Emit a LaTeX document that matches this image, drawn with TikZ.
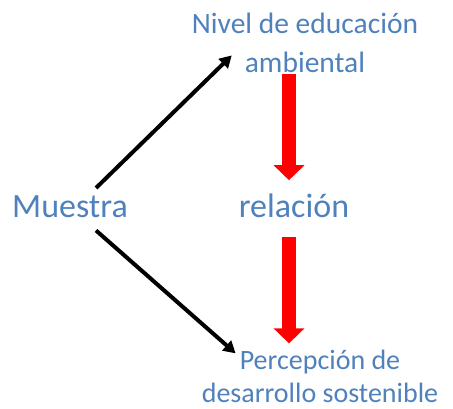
\documentclass[tikz,border=0pt]{standalone}
\usepackage{fontspec}
\setmainfont{Carlito}
\usetikzlibrary{arrows.meta}
\definecolor{edublue}{RGB}{79,129,189}
\definecolor{edured}{RGB}{255,0,0}

\begin{document}
\begin{tikzpicture}[x=1pt,y=-1pt,
  big/.style={text=edublue,inner sep=0pt,anchor=base,font=\fontsize{34}{40}\selectfont},
  small/.style={text=edublue,inner sep=0pt,anchor=base,align=center,font=\fontsize{28}{33}\selectfont},
  blackarrow/.style={line width=4pt,-{Triangle[width=13pt,length=12pt]}},
  redarrow/.style={edured,line width=14pt,-{Triangle[width=30pt,length=15pt]}}]
\useasboundingbox (0,0) rectangle (453,408);

% Labels
\node[big] (muestra) at (70,217) {Muestra};
\node[big] (relacion) at (294,217) {relación};
\node[small,font=\fontsize{29.5}{33}\selectfont] (nivel) at (305,72) {Nivel de educación\\[6pt]ambiental};
\node[small] (percep) at (320,402) {Percepción de\\desarrollo sostenible};

% Black arrows from Muestra
\draw[blackarrow] ([xshift=26pt,yshift=7pt]muestra.north) -- ([xshift=40pt,yshift=17pt]nivel.south west);
\draw[blackarrow] ([xshift=26pt,yshift=-13pt]muestra.south) -- ([xshift=34pt,yshift=-4pt]percep.north west);

% Red arrows down the middle
\draw[redarrow] ([xshift=-16pt,yshift=-2pt]nivel.south) -- ([xshift=-5pt,yshift=13pt]relacion.north);
\draw[redarrow] ([xshift=-5pt,yshift=-20pt]relacion.south) -- ([xshift=-5pt,yshift=6pt]percep.north -| relacion.south);
\end{tikzpicture}
\end{document}
